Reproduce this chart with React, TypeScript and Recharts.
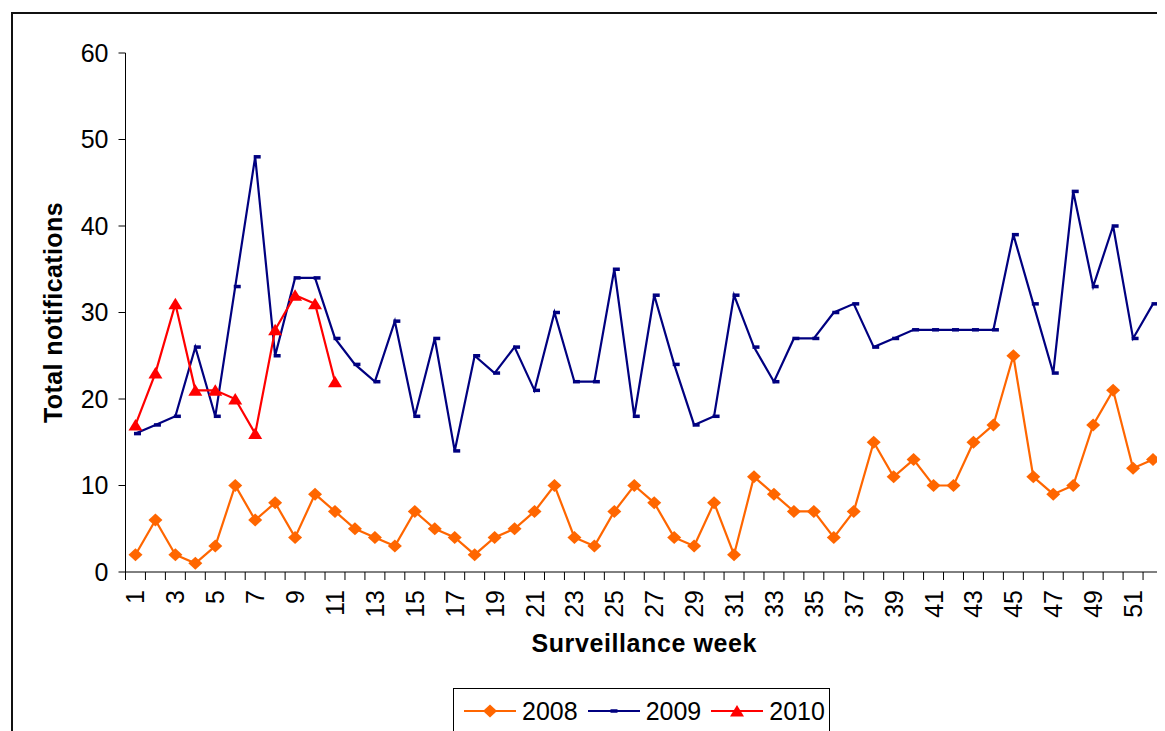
import React from 'react';
import { LineChart, Line, XAxis, YAxis, Legend } from 'recharts';

const weeks = [
  1, 2, 3, 4, 5, 6, 7, 8, 9, 10, 11, 12, 13, 14, 15, 16, 17, 18, 19, 20, 21, 22, 23, 24, 25, 26,
  27, 28, 29, 30, 31, 32, 33, 34, 35, 36, 37, 38, 39, 40, 41, 42, 43, 44, 45, 46, 47, 48, 49, 50, 51, 52,
];

const cases2008 = [
  2, 6, 2, 1, 3, 10, 6, 8, 4, 9, 7, 5, 4, 3, 7, 5, 4, 2, 4, 5, 7, 10, 4, 3, 7, 10,
  8, 4, 3, 8, 2, 11, 9, 7, 7, 4, 7, 15, 11, 13, 10, 10, 15, 17, 25, 11, 9, 10, 17, 21, 12, 13,
];

const cases2009 = [
  16, 17, 18, 26, 18, 33, 48, 25, 34, 34, 27, 24, 22, 29, 18, 27, 14, 25, 23, 26, 21, 30, 22, 22, 35, 18,
  32, 24, 17, 18, 32, 26, 22, 27, 27, 30, 31, 26, 27, 28, 28, 28, 28, 28, 39, 31, 23, 44, 33, 40, 27, 31,
];

const cases2010 = [17, 23, 31, 21, 21, 20, 16, 28, 32, 31, 22];

const yTicks = [0, 10, 20, 30, 40, 50, 60];

// tick marks sit between weeks, labels on odd weeks
const xTicks = [
  ...weeks.map((w) => w - 0.5),
  weeks[weeks.length - 1] + 0.5,
  ...weeks.filter((w) => w % 2 === 1),
].sort((a, b) => a - b);

const data = weeks.map((week, i) => ({
  week,
  y2008: cases2008[i],
  y2009: cases2009[i],
  y2010: i < cases2010.length ? cases2010[i] : undefined,
}));

const FONT = '"Liberation Sans", Arial, sans-serif';
const ORANGE = '#FF6600';
const NAVY = '#000080';
const RED = '#FF0000';

function Diamond({ cx, cy, fill }: any) {
  if (cx == null || cy == null) return null;
  return <polygon points={`${cx},${cy - 6.5} ${cx + 7},${cy} ${cx},${cy + 6.5} ${cx - 7},${cy}`} fill={fill} />;
}

function Dash({ cx, cy, fill }: any) {
  if (cx == null || cy == null) return null;
  return <rect x={cx - 1.5} y={cy - 1.75} width={7} height={3.5} fill={fill} />;
}

function Triangle({ cx, cy, fill }: any) {
  if (cx == null || cy == null) return null;
  return <polygon points={`${cx},${cy - 6} ${cx + 7},${cy + 5.5} ${cx - 7},${cy + 5.5}`} fill={fill} />;
}

function WeekTick(props: any) {
  const { x, y, payload } = props;
  const v = payload.value;
  if (!Number.isInteger(v)) {
    return <line x1={x} x2={x} y1={y} y2={y + 8} stroke="#000" strokeWidth={1} />;
  }
  const ty = y + 18;
  return (
    <text
      x={x}
      y={ty}
      transform={`rotate(-90 ${x} ${ty})`}
      textAnchor="end"
      dominantBaseline="central"
      fontSize={25}
      fontFamily={FONT}
      fill="#000"
    >
      {v}
    </text>
  );
}

function XTitle({ viewBox }: any) {
  return (
    <text
      x={viewBox.x + viewBox.width / 2}
      y={viewBox.y + 80}
      textAnchor="middle"
      fontSize={25}
      letterSpacing={0.6}
      fontWeight="bold"
      fontFamily={FONT}
      fill="#000"
    >
      Surveillance week
    </text>
  );
}

function YTitle({ viewBox }: any) {
  const x = 54;
  const y = viewBox.y + viewBox.height / 2;
  return (
    <text
      x={x}
      y={y}
      transform={`rotate(-90 ${x} ${y})`}
      textAnchor="middle"
      fontSize={25}
      letterSpacing={0.4}
      fontWeight="bold"
      fontFamily={FONT}
      fill="#000"
    >
      Total notifications
    </text>
  );
}

const legendItems = [
  { label: '2008', color: ORANGE, Marker: Diamond },
  { label: '2009', color: NAVY, Marker: Dash },
  { label: '2010', color: RED, Marker: Triangle },
];

function LegendBox() {
  return (
    <div
      style={{
        border: '1px solid #000',
        boxSizing: 'border-box',
        height: 60,
        display: 'flex',
        alignItems: 'flex-start',
        paddingTop: 10,
        paddingLeft: 10,
        fontFamily: FONT,
        fontSize: 25,
        lineHeight: '24px',
        background: '#fff',
      }}
    >
      {legendItems.map(({ label, color, Marker }) => (
        <div key={label} style={{ display: 'flex', alignItems: 'center', marginRight: 10 }}>
          <svg width={52} height={24}>
            <line x1={0} x2={52} y1={12} y2={12} stroke={color} strokeWidth={2} />
            <Marker cx={label === '2009' ? 24 : 26} cy={12} fill={color} />
          </svg>
          <span style={{ marginLeft: 6, color: '#000' }}>{label}</span>
        </div>
      ))}
    </div>
  );
}

export default function App() {
  return (
    <div style={{ position: 'relative', width: 1157, height: 723, overflow: 'hidden', background: '#fff' }}>
      <div
        style={{
          position: 'absolute',
          left: 3,
          top: 4,
          width: 1300,
          height: 900,
          border: '2px solid #111',
        }}
      />
      <LineChart width={1157} height={723} data={data} margin={{ top: 45, right: 2, bottom: 0, left: 0 }}>
        <XAxis
          dataKey="week"
          type="number"
          domain={[0.5, 52.5]}
          ticks={xTicks}
          interval={0}
          allowDecimals
          height={159}
          tickLine={false}
          tickSize={0}
          tickMargin={0}
          tick={<WeekTick />}
          axisLine={{ stroke: '#000', strokeWidth: 1 }}
          label={XTitle}
        />
        <YAxis
          type="number"
          domain={[0, 60]}
          ticks={yTicks}
          interval={0}
          width={117.5}
          tickSize={7}
          tickMargin={10}
          tick={{ fontSize: 25, fontFamily: FONT, fill: '#000' }}
          tickLine={{ stroke: '#000' }}
          axisLine={{ stroke: '#000', strokeWidth: 1 }}
          label={YTitle}
        />
        <Legend
          layout="horizontal"
          verticalAlign="middle"
          align="center"
          width={377}
          wrapperStyle={{ left: 445, top: 680, width: 377 }}
          content={<LegendBox />}
        />
        <Line
          dataKey="y2008"
          stroke={ORANGE}
          strokeWidth={2.2}
          dot={<Diamond fill={ORANGE} />}
          activeDot={false}
          isAnimationActive={false}
        />
        <Line
          dataKey="y2009"
          stroke={NAVY}
          strokeWidth={2.2}
          dot={<Dash fill={NAVY} />}
          activeDot={false}
          isAnimationActive={false}
        />
        <Line
          dataKey="y2010"
          stroke={RED}
          strokeWidth={2.2}
          dot={<Triangle fill={RED} />}
          activeDot={false}
          isAnimationActive={false}
        />
      </LineChart>
    </div>
  );
}
